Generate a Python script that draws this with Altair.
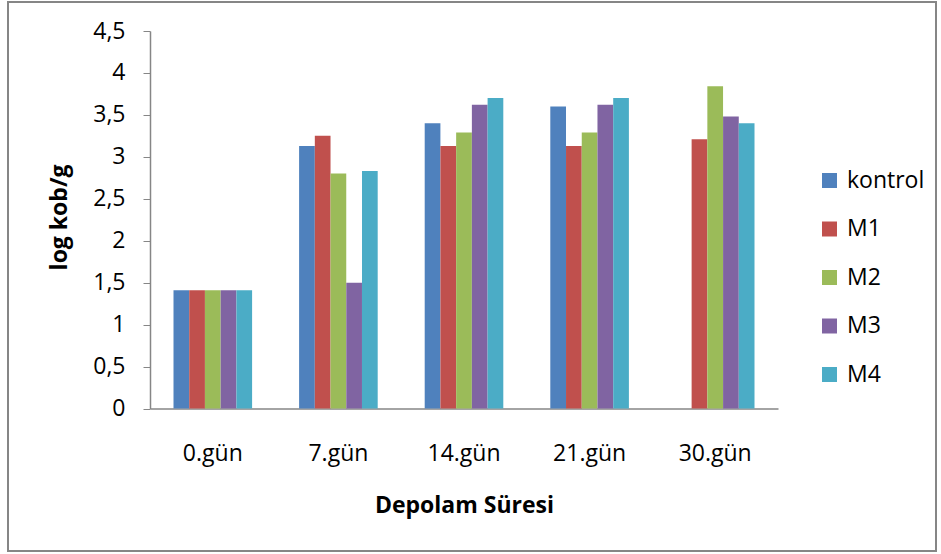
import altair as alt
import pandas as pd

# Storage days and measured log counts per treatment group
days = ["0.gün", "7.gün", "14.gün", "21.gün", "30.gün"]
groups = ["kontrol", "M1", "M2", "M3", "M4"]
kontrol = [1.41, 3.13, 3.40, 3.60, None]
m1 = [1.41, 3.25, 3.13, 3.13, 3.21]
m2 = [1.41, 2.80, 3.29, 3.29, 3.84]
m3 = [1.41, 1.50, 3.62, 3.62, 3.48]
m4 = [1.41, 2.83, 3.70, 3.70, 3.40]
colors = ["#4F81BD", "#C0504D", "#9BBB59", "#8064A2", "#4BACC6"]
y_ticks = [0, 0.5, 1, 1.5, 2, 2.5, 3, 3.5, 4, 4.5]

rows = []
for name, series in zip(groups, [kontrol, m1, m2, m3, m4]):
    for day, val in zip(days, series):
        if val is not None:
            rows.append({"gun": day, "grup": name, "deger": val})
df = pd.DataFrame(rows)

FONT = "Open Sans"
FS = 23

bars = alt.Chart(df).mark_bar(size=15.7).encode(
    x=alt.X(
        "gun:N",
        sort=days,
        scale=alt.Scale(domain=days, paddingInner=0.374, paddingOuter=0.187),
        axis=alt.Axis(
            title="Depolam Süresi",
            labelAngle=0,
            ticks=False,
            tickSize=0,
            labelPadding=34,
            labelFontSize=FS,
            labelFont=FONT,
            labelColor="#000000",
            domainColor="#868686",
            domainWidth=1.5,
            titleFont=FONT,
            titleFontSize=FS,
            titleFontWeight="bold",
            titleColor="#000000",
            titleY=96.5,
            titleBaseline="middle",
        ),
    ),
    xOffset=alt.XOffset("grup:N", sort=groups, scale=alt.Scale(domain=groups, paddingInner=0, paddingOuter=0)),
    y=alt.Y(
        "deger:Q",
        scale=alt.Scale(domain=[0, 4.5], nice=False, zero=True),
        axis=alt.Axis(
            title="log kob/g",
            values=y_ticks,
            grid=False,
            labelExpr="replace(format(datum.value, '.1~f'), '.', ',')",
            tickSize=7,
            tickColor="#868686",
            labelPadding=18,
            labelFontSize=FS,
            labelFont=FONT,
            labelColor="#000000",
            domainColor="#868686",
            domainWidth=1.5,
            titleFont=FONT,
            titleFontSize=FS,
            titleFontWeight="bold",
            titleColor="#000000",
            titleX=-91,
            titleY=186,
            titleAngle=270,
            titleAlign="center",
            titleBaseline="middle",
        ),
    ),
    color=alt.Color(
        "grup:N",
        sort=groups,
        scale=alt.Scale(domain=groups, range=colors),
        legend=alt.Legend(
            title=None,
            orient="none",
            legendX=668,
            legendY=138,
            padding=0,
            symbolType="square",
            symbolSize=225,
            symbolStrokeWidth=0,
            labelFont=FONT,
            labelFontSize=FS,
            labelColor="#000000",
            labelOffset=6,
            labelLimit=200,
            rowPadding=24.5,
        ),
    ),
)

# Outer frame around the whole chart
frame = alt.Chart(pd.DataFrame({"k": [0]})).mark_rect(
    fill=None, stroke="#868686", strokeWidth=2
).encode(
    x=alt.value(-142), x2=alt.value(786), y=alt.value(-29), y2=alt.value(520)
)

chart = alt.layer(frame, bars).properties(
    width=628,
    height=377.5,
    padding={"left": 150, "top": 31, "right": 163, "bottom": 145.5},
    autosize=alt.AutoSizeParams(type="none"),
    background="#FFFFFF",
).configure_view(stroke=None)

chart.save("out.html", embed_options={"renderer": "svg", "actions": False})
